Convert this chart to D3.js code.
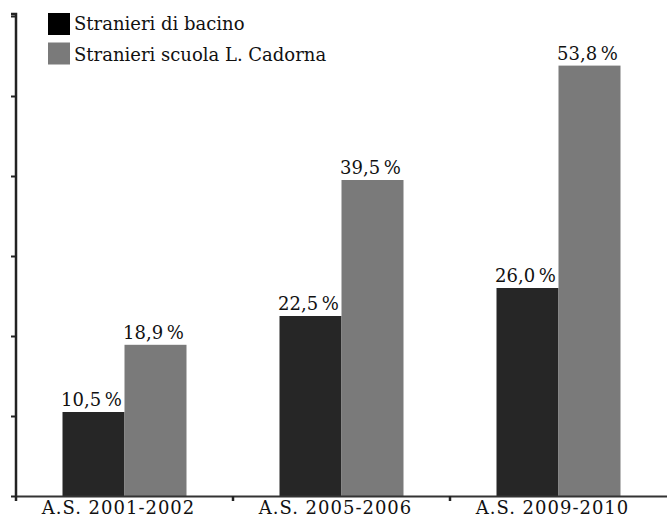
<!DOCTYPE html>
<html><head><meta charset="utf-8">
<script src="https://cdn.jsdelivr.net/npm/d3@7"></script>
<style>body{margin:0;background:#fff;} svg{display:block;}</style>
</head><body>
<svg id="c" width="667" height="520"></svg>
<script>
const categories = ["A.S. 2001-2002", "A.S. 2005-2006", "A.S. 2009-2010"];
const seriesNames = ["Stranieri di bacino", "Stranieri scuola L. Cadorna"];
const bacino = [10.5, 22.5, 26.0];
const cadorna = [18.9, 39.5, 53.8];
const yTicks = [0, 10, 20, 30, 40, 50, 60];
const colors = ["#262626", "#7a7a7a"];

const svg = d3.select("#c");
const font = "'DejaVu Serif', serif";
const fs = 18;
const x0 = 16, x1 = 667, yBase = 496, yTop = 16;

const x = d3.scaleBand().domain(categories).range([x0, x1]).padding(0);
const y = d3.scaleLinear().domain([0, 60]).range([yBase, yTop]);
const xs = d3.scaleBand().domain(seriesNames).range([0, 124]).padding(0);

const data = categories.map((c, i) => ({cat: c, vals: [bacino[i], cadorna[i]]}));

const g = svg.append("g");
data.forEach(d => {
  const cx = x(d.cat) + x.bandwidth() / 2 - 62;
  d.vals.forEach((v, j) => {
    const bx = cx + xs(seriesNames[j]);
    g.append("rect").attr("x", bx).attr("y", y(v))
      .attr("width", xs.bandwidth()).attr("height", yBase - y(v))
      .attr("fill", colors[j]);
    g.append("text").attr("x", bx + xs.bandwidth() / 2 - 2).attr("y", y(v) - 6)
      .attr("text-anchor", "middle").attr("font-family", font).attr("font-size", fs)
      .attr("fill", "#111")
      .text(d3.format(".1f")(v).replace(".", ",") + "\u2009%");
  });
});

// Y axis
const yAxis = d3.axisLeft(y).tickValues(yTicks).tickSize(5).tickFormat("");
const ya = svg.append("g").attr("transform", `translate(${x0},0)`).call(yAxis);
ya.select(".domain").attr("stroke", "#222").attr("stroke-width", 2.5).attr("d", `M-5,${yTop - 2}H0V${yBase}`);
ya.selectAll(".tick line").attr("stroke", "#222").attr("stroke-width", 2);

// X axis
const xAxis = d3.axisBottom(x).tickValues([]).tickSizeOuter(0);
const xa = svg.append("g").attr("transform", `translate(0,${yBase})`).call(xAxis);
xa.select(".domain").attr("stroke", "#333").attr("stroke-width", 2);
const sepTicks = [x0].concat(categories.slice(1).map(c => x(c)));
xa.selectAll(".sep").data(sepTicks).join("line").attr("class", "sep")
  .attr("x1", d => d).attr("x2", d => d).attr("y1", 0).attr("y2", 5)
  .attr("stroke", "#222").attr("stroke-width", 2.5);
xa.selectAll(".lbl").data(categories).join("text").attr("class", "lbl")
  .attr("x", d => x(d) + x.bandwidth() / 2 - 6).attr("y", 18)
  .attr("text-anchor", "middle").attr("font-family", font).attr("font-size", fs)
  .attr("letter-spacing", 1)
  .attr("fill", "#111").text(d => d);

// Legend
const leg = svg.append("g").attr("transform", "translate(48,13)");
seriesNames.forEach((n, i) => {
  leg.append("rect").attr("x", 0).attr("y", i * 29.5).attr("width", 22).attr("height", 22).attr("fill", i === 0 ? "#000" : colors[1]);
  leg.append("text").attr("x", 26).attr("y", i * 30.5 + 17).attr("font-family", font).attr("font-size", fs)
    .attr("fill", "#111").text(n);
});
</script>
</body></html>
